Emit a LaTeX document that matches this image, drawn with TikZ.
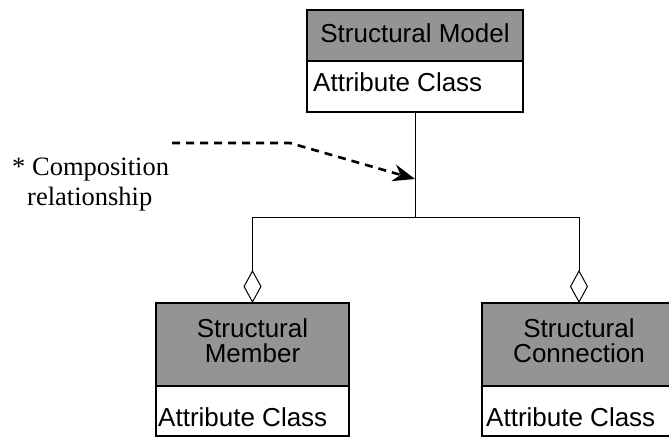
\documentclass[tikz,border=0pt]{standalone}
\usepackage{fontspec}
\setmainfont{Liberation Serif}
\setsansfont{Liberation Sans}
\usetikzlibrary{arrows.meta,calc}

\begin{document}
\begin{tikzpicture}[x=1pt,y=-1pt,
  boxline/.style={draw=black,line width=1.4pt,outer sep=0pt},
  headbox/.style={boxline,fill=black!42,inner sep=0pt},
  attrbox/.style={boxline,fill=white,inner sep=0pt},
  classtext/.style={font=\sffamily\fontsize{26}{25}\selectfont,inner sep=0pt,align=center},
  attrtext/.style={font=\sffamily\fontsize{26}{25}\selectfont,inner sep=0pt,anchor=base west},
  notetext/.style={font=\fontsize{26.5}{30}\selectfont,inner sep=0pt,anchor=base west},
  link/.style={draw=black,line width=1pt},
  aggregation/.style={link,{Diamond[open,length=33pt,width=18pt,line width=1pt]}-},
  notearrow/.style={draw=black,line width=2.6pt,dash pattern=on 8pt off 6pt,
    -{Stealth[length=22pt,width=17pt,inset=7pt]}}
]
\useasboundingbox (0,0) rectangle (669,437);

% Structural Model class
\node[headbox,minimum width=216pt,minimum height=51pt,anchor=north west] (modelH) at (307,10) {};
\node[attrbox,minimum width=216pt,minimum height=51pt,anchor=north] (modelA) at (modelH.south) {};
\node[classtext,anchor=base] (modelT) at (415,42) {Structural Model};
\node[attrtext] (modelAT) at (313,91) {Attribute Class};

% Structural Member class
\node[headbox,minimum width=193pt,minimum height=83pt,anchor=north west] (memberH) at (156,303) {};
\node[attrbox,minimum width=193pt,minimum height=50pt,anchor=north] (memberA) at (memberH.south) {};
\node[classtext] (memberT) at (memberH.center |- 0,340.5) {Structural\\Member};
\node[attrtext] (memberAT) at (158,426) {Attribute Class};

% Structural Connection class
\node[headbox,minimum width=194pt,minimum height=83pt,anchor=north west] (connH) at (482,303) {};
\node[attrbox,minimum width=194pt,minimum height=50pt,anchor=north] (connA) at (connH.south) {};
\node[classtext] (connT) at (connH.center |- 0,340.5) {Structural\\Connection};
\node[attrtext] (connAT) at (486,426) {Attribute Class};

% Composition tree
\coordinate (junction) at (modelA.south |- 0,217);
\draw[link] (modelA.south) -- (junction);
\draw[aggregation] (memberH.north) |- (junction);
\draw[aggregation] (connH.north) |- (junction);

% Note
\node[notetext] (noteA) at (12,175) {* Composition};
\node[notetext] (noteB) at (27,205) {relationship};
\coordinate (noteStart) at (172,143);
\coordinate (noteBend) at (290,143);
\coordinate (noteTip) at (modelA.south |- 0,179);
\draw[notearrow] (noteStart) -- (noteBend) -- (noteTip);
\end{tikzpicture}
\end{document}
